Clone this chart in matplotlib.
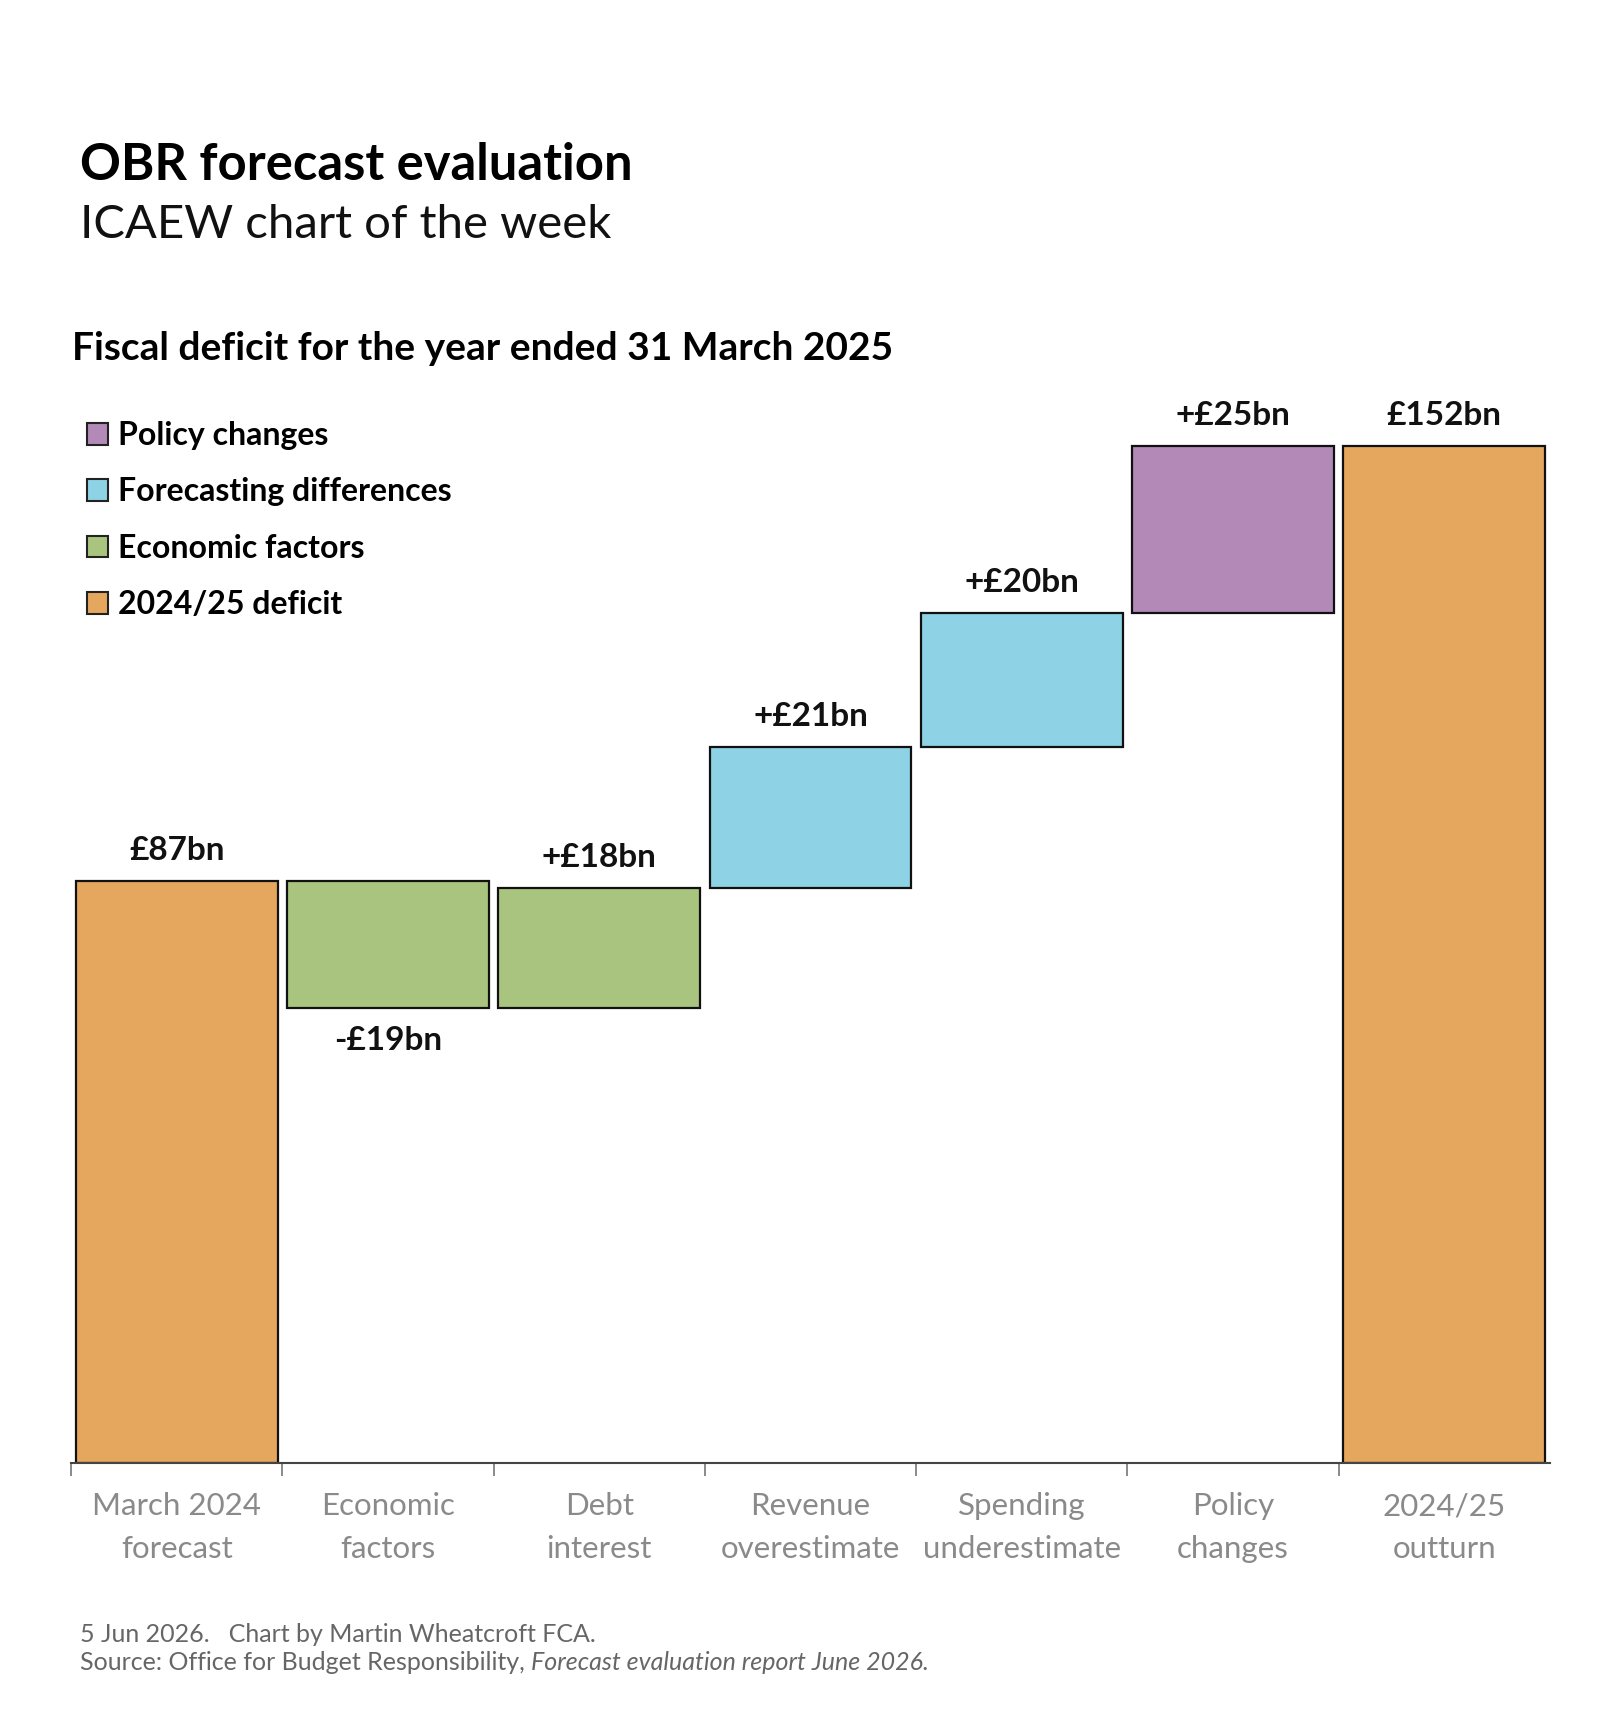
import matplotlib.pyplot as plt
from matplotlib.patches import Patch
import numpy as np

plt.rcParams['font.family'] = ['Lato', 'DejaVu Sans']

categories = ['March 2024\nforecast', 'Economic\nfactors', 'Debt\ninterest',
              'Revenue\noverestimate', 'Spending\nunderestimate', 'Policy\nchanges',
              '2024/25\noutturn']
values = [87, -19, 18, 21, 20, 25, 152]
is_total = [True, False, False, False, False, False, True]
groups = ['deficit', 'economic', 'economic', 'forecasting', 'forecasting', 'policy', 'deficit']
value_labels = ['£87bn', '-£19bn', '+£18bn', '+£21bn', '+£20bn', '+£25bn', '£152bn']

colors = {'deficit': '#E5A75E', 'economic': '#A9C47F',
          'forecasting': '#8DD3E5', 'policy': '#B389B8'}
legend_names = [('policy', 'Policy changes'), ('forecasting', 'Forecasting differences'),
                ('economic', 'Economic factors'), ('deficit', '2024/25 deficit')]

W, H = 1600, 1730
fig = plt.figure(figsize=(W / 100, H / 100), dpi=100)

# axes box in pixels
ax_left, ax_right, ax_bottom = 71, 1550, 1463
ymax = 165
px_per_unit = 6.69
ax_top = ax_bottom - ymax * px_per_unit
ax = fig.add_axes([ax_left / W, 1 - ax_bottom / H,
                   (ax_right - ax_left) / W, (ax_bottom - ax_top) / H])

# waterfall bottoms / heights
bottoms, heights = [], []
running = 0
for v, tot in zip(values, is_total):
    if tot:
        bottoms.append(0)
        heights.append(v)
        running = v
    else:
        bottoms.append(running if v >= 0 else running + v)
        heights.append(abs(v))
        running += v

x = np.arange(len(categories))
ax.bar(x, heights, bottom=bottoms, width=0.955,
       color=[colors[g] for g in groups], edgecolor='#111111', linewidth=1.6)

for xi, b, h, v, tot, lab in zip(x, bottoms, heights, values, is_total, value_labels):
    if v < 0 and not tot:
        ax.annotate(lab, (xi, b), xytext=(0, -23), textcoords='offset points',
                    ha='center', va='center', fontsize=24, fontweight='bold', color='#111111')
    else:
        ax.annotate(lab, (xi, b + h), xytext=(0, 22), textcoords='offset points',
                    ha='center', va='center', fontsize=24, fontweight='bold', color='#111111')

ax.set_xlim(-0.5, 6.5)
ax.set_ylim(0, ymax)
ax.set_yticks([])
for s in ['top', 'right', 'left']:
    ax.spines[s].set_visible(False)
ax.spines['bottom'].set_color('#444444')
ax.spines['bottom'].set_linewidth(1.5)
ax.set_xticks(x)
ax.set_xticklabels(categories, fontsize=22.5, color='#8a8a8a', linespacing=1.65)
ax.tick_params(axis='x', which='major', length=0, pad=21)
ax.set_xticks(np.arange(-0.5, 6.0, 1.0), minor=True)
ax.tick_params(axis='x', which='minor', length=9, width=1.2, color='#777777', direction='out')

handles = [Patch(facecolor=colors[k], edgecolor='#222222', linewidth=1.5, label=n)
           for k, n in legend_names]
fig.legend(handles=handles, loc='upper left', bbox_to_anchor=(58 / W, 1 - 392 / H),
           frameon=False, handlelength=0.68, handleheight=0.68,
           handletextpad=0.3, labelspacing=0.86, prop={'size': 23, 'weight': 'bold'})

fig.text(80 / W, 1 - 166 / H, 'OBR forecast evaluation', fontsize=36.5, fontweight='bold',
         va='center', ha='left', color='#000000')
fig.text(80 / W, 1 - 225 / H, 'ICAEW chart of the week', fontsize=34, fontweight='normal',
         va='center', ha='left', color='#111111')
fig.text(72 / W, 1 - 349 / H, 'Fiscal deficit for the year ended 31 March 2025', fontsize=28,
         fontweight='bold', va='center', ha='left', color='#000000')

fig.text(80 / W, 1 - 1634 / H, '5 Jun 2026.   Chart by Martin Wheatcroft FCA.', fontsize=18,
         va='center', ha='left', color='#666666')
fig.text(80 / W, 1 - 1662 / H, 'Source: Office for Budget Responsibility, ', fontsize=18,
         va='center', ha='left', color='#666666')
t = fig.texts[-1]
fig.canvas.draw()
bb = t.get_window_extent()
fig.text(bb.x1 / W, 1 - 1662 / H, 'Forecast evaluation report June 2026.', fontsize=18,
         style='italic', va='center', ha='left', color='#666666')

fig.savefig('out.png', dpi=100, facecolor='white')
